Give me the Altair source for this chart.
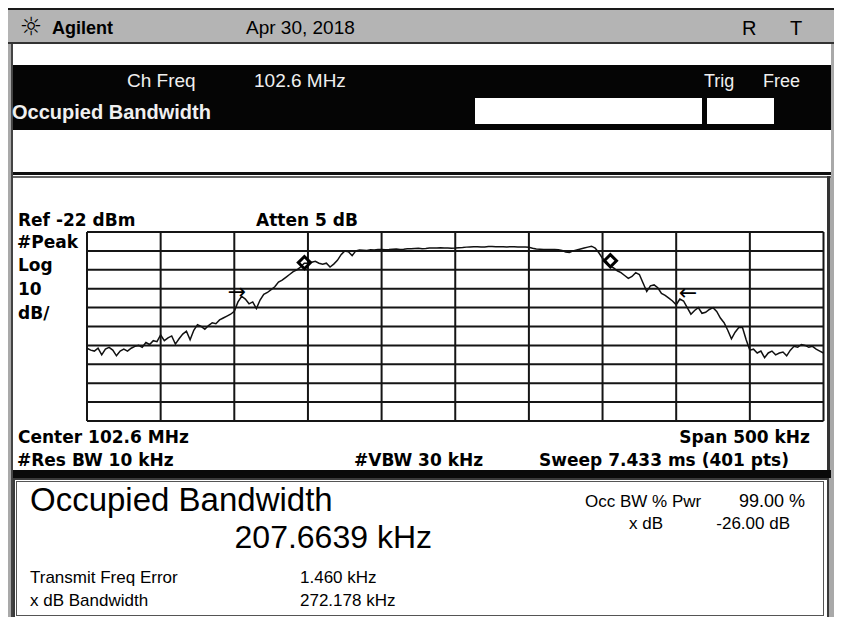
import altair as alt
import pandas as pd

# ---------------- data ----------------
REF_LEVEL = -22.0      # dBm, top graticule line
DB_PER_DIV = 10.0
N_DIV = 10
SPAN_KHZ = 500
CENTER_MHZ = 102.6

FREQ_KHZ = [-250 + 2.5 * i for i in range(201)]          # offset from centre, kHz
LEVEL_DBM = [
    -83.5, -84.5, -85.0, -83.5, -87.0, -84.0, -83.0, -84.5, -87.5, -85.0,
    -84.0, -85.0, -83.5, -82.5, -82.0, -83.0, -80.5, -81.5, -79.5, -80.0,
    -76.5, -79.5, -78.0, -77.0, -81.3, -78.5, -76.0, -74.5, -79.0, -74.0,
    -71.0, -72.0, -73.5, -71.5, -70.0, -70.5, -68.5, -67.5, -66.5, -65.5,
    -64.0, -59.0, -56.0, -57.5, -60.0, -59.0, -62.5, -58.0, -55.0, -54.0,
    -52.5, -51.0, -48.5, -47.5, -46.0, -44.5, -43.0, -42.0, -40.5, -38.5,
    -38.5, -38.0, -37.5, -38.5, -39.0, -38.5, -40.5, -39.0, -37.0, -34.0,
    -32.0, -32.5, -34.5, -32.0, -31.5, -31.6, -31.8, -31.4, -31.5, -31.3,
    -31.2, -31.4, -31.3, -31.1, -31.0, -31.2, -31.1, -30.9, -30.8, -30.7,
    -30.6, -30.8, -30.7, -30.5, -30.4, -30.4, -30.3, -30.5, -30.4, -30.6,
    -30.5, -30.3, -30.2, -30.0, -29.9, -29.8, -29.8, -29.9, -29.9, -29.7,
    -29.7, -29.8, -29.8, -29.8, -29.9, -29.8, -29.8, -29.9, -29.9, -30.0,
    -30.1, -30.6, -31.0, -31.1, -31.2, -31.2, -31.3, -31.3, -31.4, -31.8,
    -32.6, -32.8, -32.0, -31.5, -31.0, -30.5, -30.0, -29.5, -30.5, -33.0,
    -36.0, -37.5, -40.0, -41.0, -42.5, -43.5, -45.0, -46.5, -45.5, -43.5,
    -44.5, -49.0, -53.5, -50.5, -50.0, -51.5, -54.5, -55.5, -57.0, -58.5,
    -60.5, -57.5, -58.5, -62.0, -65.5, -63.5, -62.0, -65.0, -64.5, -63.0,
    -62.0, -64.0, -67.5, -70.0, -74.0, -78.5, -75.0, -72.5, -72.5, -79.0,
    -84.5, -84.0, -86.0, -85.0, -88.5, -86.0, -85.0, -87.0, -86.0, -85.5,
    -87.5, -84.5, -82.5, -83.0, -81.5, -82.0, -83.0, -82.5, -84.0, -85.0,
    -86.0,
]

OBW_MARKER_F = [-102.4, 105.3]
OBW_MARKER_L = [-38.2, -37.2]
XDB_ARROW_F = [-148.2, 158.0]
XDB_ARROW_L = [-53.7, -54.5]
XDB_ARROW_T = ["→", "←"]

FREQ_TICKS = [-250 + i * SPAN_KHZ / N_DIV for i in range(N_DIV + 1)]
LEVEL_TICKS = [REF_LEVEL - i * DB_PER_DIV for i in range(N_DIV + 1)]
BOTTOM = REF_LEVEL - N_DIV * DB_PER_DIV

# ---------------- layout helpers ----------------
W, H = 826, 609
OX, OY = 8, 8          # page margin offset (reference coordinates -> chart)
one = pd.DataFrame({"k": [0]})

xs = alt.Scale(domain=[-303.63, 257.13], nice=False, zero=False)
ys = alt.Scale(domain=[-225.7, 96.52], nice=False, zero=False)


def rect(x0, y0, x1, y1, color):
    return alt.Chart(one).mark_rect(color=color).encode(
        x=alt.value(x0 - OX), x2=alt.value(x1 - OX),
        y=alt.value(y0 - OY), y2=alt.value(y1 - OY))


def txt(s, x, y, size, font="Liberation Sans", weight="normal",
        color="black", align="left"):
    return alt.Chart(one).mark_text(
        text=s, align=align, baseline="alphabetic", font=font,
        fontSize=size, fontWeight=weight, color=color).encode(
        x=alt.value(x - OX), y=alt.value(y - OY))


layers = []
# frame / panels
layers += [
    rect(0, 0, 842, 10, "#1a1a1a"),          # top black line
    rect(5, 10, 838, 42, "#b4b4b4"),         # grey title bar
    rect(5, 42, 838, 44, "#333333"),
    rect(4, 8, 6, 44, "#333333"),
    rect(13, 44, 831, 65, "#ffffff"),
    rect(13, 65, 831, 130, "#050505"),        # black header bar
    rect(475, 98, 702, 124, "#ffffff"),
    rect(707, 98, 774, 124, "#ffffff"),
    rect(13, 130, 831, 172, "#ffffff"),
    rect(13, 172, 831, 175, "#111111"),
    rect(13, 175, 831, 176, "#ffffff"),
    rect(13, 176, 831, 178, "#666666"),
    rect(13, 178, 827, 470, "#ffffff"),       # plot panel
    rect(827, 176, 830, 478, "#333333"),
    rect(13, 470, 831, 478, "#0a0a0a"),       # black separator
    rect(13, 478, 829, 621, "#3a3a3a"),       # result box outer border
    rect(15, 480, 827, 619, "#ffffff"),
    rect(16, 481, 824, 616, "#555555"),
    rect(17, 482, 823, 615, "#ffffff"),
    rect(11, 44, 13, 621, "#444444"),         # left dark edge
]

# graticule
vgrid = pd.DataFrame({"f": FREQ_TICKS, "lo": BOTTOM, "hi": REF_LEVEL})
hgrid = pd.DataFrame({"l": LEVEL_TICKS, "lo": FREQ_TICKS[0], "hi": FREQ_TICKS[-1]})
layers.append(alt.Chart(vgrid).mark_rule(color="#151515", strokeWidth=2).encode(
    x=alt.X("f:Q", scale=xs, axis=None),
    y=alt.Y("lo:Q", scale=ys, axis=None), y2="hi:Q"))
layers.append(alt.Chart(hgrid).mark_rule(color="#151515", strokeWidth=2).encode(
    y=alt.Y("l:Q", scale=ys, axis=None),
    x=alt.X("lo:Q", scale=xs, axis=None), x2="hi:Q"))

# trace
trace_df = pd.DataFrame({"f": FREQ_KHZ, "dbm": LEVEL_DBM})
layers.append(alt.Chart(trace_df).mark_line(color="#111111", strokeWidth=1.5).encode(
    x=alt.X("f:Q", scale=xs, axis=None),
    y=alt.Y("dbm:Q", scale=ys, axis=None)))

# markers
mk = pd.DataFrame({"f": OBW_MARKER_F, "l": OBW_MARKER_L})
layers.append(alt.Chart(mk).mark_point(shape="diamond", filled=False, color="#000000",
                                       strokeWidth=3, size=150, opacity=1).encode(
    x=alt.X("f:Q", scale=xs, axis=None), y=alt.Y("l:Q", scale=ys, axis=None)))
ar = pd.DataFrame({"f": XDB_ARROW_F, "l": XDB_ARROW_L, "t": XDB_ARROW_T})
layers.append(alt.Chart(ar).mark_text(font="DejaVu Sans", fontSize=22, color="#000000",
                                      align="center", baseline="middle").encode(
    x=alt.X("f:Q", scale=xs, axis=None), y=alt.Y("l:Q", scale=ys, axis=None), text="t:N"))

# header texts
layers += [
    txt("☼", 31, 35, 25, font="DejaVu Sans", align="center"),
    txt("Agilent", 52, 34, 18, weight="bold"),
    txt("Apr 30, 2018", 246, 34, 19),
    txt("R", 742, 35, 20),
    txt("T", 790, 35, 20),
    txt("Ch Freq", 127, 87, 19, color="#f0f0f0"),
    txt(f"{CENTER_MHZ} MHz", 254, 87, 19, color="#f0f0f0"),
    txt("Trig", 704, 87, 18, color="#f0f0f0"),
    txt("Free", 763, 87, 18, color="#f0f0f0"),
    txt("Occupied Bandwidth", 12, 119, 20, weight="bold", color="#f0f0f0"),
]

# panel annotation texts
B = dict(font="DejaVu Sans", weight="bold")
layers += [
    txt(f"Ref {int(REF_LEVEL)} dBm", 18, 226, 17, **B),
    txt("Atten 5 dB", 256, 226, 17, **B),
    txt("#Peak", 17, 248, 17, **B),
    txt("Log", 18, 271, 17, **B),
    txt("10", 18, 295, 17, **B),
    txt("dB/", 18, 319, 17, **B),
    txt(f"Center {CENTER_MHZ} MHz", 18, 443, 17, **B),
    txt("#Res BW 10 kHz", 17, 466, 17, **B),
    txt("#VBW 30 kHz", 354, 466, 17, **B),
    txt(f"Span {SPAN_KHZ} kHz", 810, 443, 17, align="right", **B),
    txt("Sweep 7.433 ms (401 pts)", 789, 466, 17, align="right", **B),
]

# result box texts
layers += [
    txt("Occupied Bandwidth", 30, 511, 33),
    txt("207.6639 kHz", 432, 548, 32, align="right"),
    txt("Occ BW % Pwr", 585, 507, 17),
    txt("99.00 %", 805, 507, 18, align="right"),
    txt("x dB", 663, 529, 17, align="right"),
    txt("-26.00 dB", 790, 529, 17, align="right"),
    txt("Transmit Freq Error", 30, 583, 17),
    txt("1.460 kHz", 300, 583, 17),
    txt("x dB Bandwidth", 30, 606, 17),
    txt("272.178 kHz", 300, 606, 17),
]

chart = alt.layer(*layers).properties(
    width=W, height=H, padding=0,
    autosize=alt.AutoSizeParams(type="none"),
    background="#a9a9a9",
).configure_view(stroke=None)

chart.save("out.html", embed_options={"renderer": "svg", "actions": False})
